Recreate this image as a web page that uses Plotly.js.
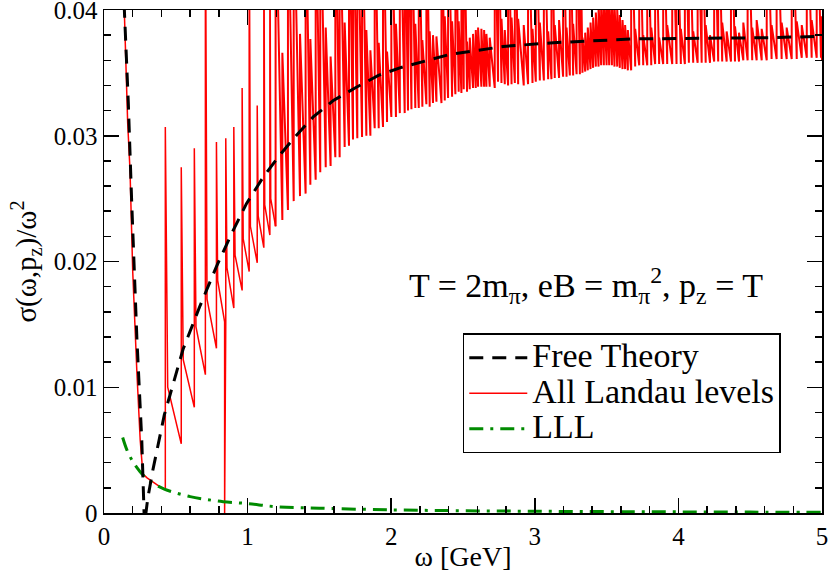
<!DOCTYPE html>
<html><head><meta charset="utf-8">
<script src="https://cdn.plot.ly/plotly-3.0.1.min.js"></script>
<style>html,body{margin:0;padding:0;background:#fff;}#chart{width:830px;height:572px;}</style>
</head><body><div id="chart"></div>
<script>
// Free theory (black dashed)
const freeX = [0.140,0.146,0.169,0.193,0.229,0.263,0.276,0.284,0.292,0.305,0.340,0.420,0.550,0.666,0.783,0.888,0.992,1.108,1.213,1.329,1.457,1.597,1.748,1.911,2.060,2.250,2.420,2.610,2.780,3.130,3.690,4.620,5.000];
const freeY = [0.0405,0.0390,0.0327,0.0247,0.0139,0.0058,0.0020,-0.0018,0.0000,0.0012,0.0034,0.0078,0.0130,0.0164,0.0196,0.0222,0.0246,0.0267,0.0283,0.0299,0.0315,0.0328,0.0338,0.0348,0.0354,0.0360,0.0365,0.0368,0.0371,0.0374,0.0377,0.0378,0.0379];
// Lowest Landau level (green dash-dot)
const lllX = [0.13,0.16,0.20,0.25,0.30,0.35,0.42,0.50,0.60,0.70,0.83,1.00,1.20,1.50,2.00,2.50,3.00,3.50,4.00,4.50,5.00];
const lllY = [0.0060,0.0050,0.0041,0.0033,0.0027,0.0023,0.0019,0.0016,0.0013,0.0011,0.0009,0.00075,0.0005,0.00038,0.00025,0.00018,0.00014,0.00011,0.00009,0.00007,0.00006];
// All Landau levels: part before the first threshold
const leadX = [0.140,0.150,0.165,0.181,0.200,0.229,0.252,0.271,0.300,0.350,0.400,0.427];
const leadY = [0.0405,0.0365,0.0310,0.0273,0.0192,0.0112,0.0058,0.0031,0.0028,0.0024,0.0020,0.0019];
// All Landau levels: thresholds, peak values, value just after the spike, value before next threshold
const llX = [0.427,0.538,0.629,0.706,0.783,0.840,0.848,0.904,0.962,1.011,1.067,1.113,1.155,
1.195,1.242,1.281,1.321,1.365,1.404,1.437,1.474,1.506,1.544,1.578,1.611,1.641,1.676,1.706,1.734,1.764,1.797,1.827,1.855,1.885,1.913,1.943,1.971,2.001,2.033,2.060,
2.094,2.117,2.141,2.168,2.192,2.217,2.245,2.268,2.291,2.315,2.350,2.373,2.396,2.424,2.447,2.470,2.489,2.505,2.528,2.547,2.570,2.589,2.605,2.628,2.647,2.663,2.686,2.721,2.744,2.768,2.791,2.814,2.838,2.861,2.884,
2.923,2.953,2.984,3.007,3.035,3.063,3.093,3.116,3.139,3.169,3.197,3.221,3.244,3.267,3.291,3.314,3.332,3.351,3.369,3.388,3.406,3.425,3.444,3.462,3.481,3.500,3.518,3.537,3.555,3.574,3.592,3.611,3.629,3.648,3.671,3.699,3.727,3.755,3.783,3.811,3.838,3.866,3.894,3.922,
3.957,3.987,4.017,4.045,4.073,4.103,4.134,4.162,4.190,4.220,4.249,4.277,4.305,4.336,4.366,4.394,4.422,4.452,4.482,4.514,4.545,4.580,4.615,4.649,4.684,4.719,4.754,4.789,4.824,4.859,4.894,4.928,4.963,4.993];
const llPeak = [0.0307,0.0275,0.0290,0.050,0.0295,0.0000,0.0298,0.0307,0.0338,0.050,0.0324,0.050,0.050,
0.050,0.0366,0.050,0.050,0.0381,0.050,0.0377,0.050,0.050,0.0386,0.0363,0.050,0.050,0.0390,0.050,0.050,0.050,0.050,0.0384,0.0368,0.050,0.0374,0.050,0.0367,0.050,0.0389,0.050,
0.050,0.050,0.050,0.0389,0.050,0.0376,0.050,0.0383,0.0380,0.0379,0.050,0.0395,0.050,0.0391,0.050,0.0391,0.050,0.050,0.0375,0.0378,0.0381,0.0384,0.0386,0.0385,0.0384,0.0381,0.0378,0.050,0.050,0.0393,0.0384,0.050,0.0394,0.050,0.0393,
0.0388,0.050,0.0385,0.050,0.0390,0.050,0.0383,0.050,0.0388,0.0392,0.050,0.0386,0.050,0.0389,0.050,0.050,0.0378,0.0382,0.0386,0.0390,0.0394,0.0398,0.0405,0.0410,0.0412,0.0412,0.0410,0.0408,0.0404,0.0400,0.0396,0.0392,0.0388,0.0384,0.050,0.0385,0.050,0.0380,0.050,0.0386,0.050,0.0378,0.050,0.0388,
0.050,0.050,0.0385,0.050,0.050,0.0383,0.050,0.050,0.0388,0.0380,0.050,0.050,0.0390,0.0383,0.050,0.0387,0.0382,0.0390,0.050,0.0386,0.0392,0.0385,0.050,0.0388,0.050,0.0390,0.0386,0.050,0.0391,0.0388,0.050,0.0392,0.050,0.0395];
const llKnee = [0.0100,0.0122,0.0148,0.0170,0.0185,null,0.0195,0.0205,0.0218,0.0228,0.0236,0.0245,0.0250];
const llTrough = [0.0055,0.0084,0.0110,0.0131,0.0152,0.0152,0.0163,0.0177,0.0192,0.0199,0.0211,0.0221,0.0228,
0.0233,0.0241,0.0248,0.0252,0.0254,0.0261,0.0265,0.0271,0.0275,0.0276,0.0283,0.0283,0.0291,0.0292,0.0297,0.0298,0.0299,0.0300,0.0300,0.0306,0.0306,0.0307,0.0311,0.0315,0.0315,0.0318,0.0318,
0.0320,0.0321,0.0322,0.0322,0.0323,0.0325,0.0323,0.0326,0.0327,0.0326,0.0328,0.0330,0.0331,0.0333,0.0335,0.0334,0.0337,0.0335,0.0337,0.0338,0.0338,0.0339,0.0339,0.0339,0.0339,0.0339,0.0338,0.0343,0.0342,0.0341,0.0340,0.0341,0.0342,0.0341,0.0340,
0.0341,0.0342,0.0343,0.0344,0.0344,0.0345,0.0345,0.0346,0.0346,0.0347,0.0347,0.0348,0.0348,0.0349,0.0349,0.0350,0.0351,0.0352,0.0353,0.0354,0.0355,0.0355,0.0356,0.0356,0.0356,0.0356,0.0356,0.0355,0.0355,0.0354,0.0353,0.0353,0.0352,0.0352,0.0355,0.0356,0.0356,0.0356,0.0356,0.0357,0.0357,0.0357,0.0357,0.0357,
0.0357,0.0357,0.0357,0.0358,0.0358,0.0358,0.0358,0.0358,0.0358,0.0359,0.0359,0.0359,0.0359,0.0359,0.0359,0.0359,0.0360,0.0360,0.0360,0.0360,0.0360,0.0360,0.0361,0.0361,0.0361,0.0361,0.0361,0.0361,0.0362,0.0362,0.0362,0.0362,0.0362,0.0360];
const xEnd = 5.0;
// Tick values and labels
const xTicks = [0, 1, 2, 3, 4, 5];
const xTickText = ['0', '1', '2', '3', '4', '5'];
const yTicks = [0, 0.01, 0.02, 0.03, 0.04];
const yTickText = ['0', '0.01', '0.02', '0.03', '0.04'];

// Build the sawtooth path; split into a sparse (thin) part and a dense part
const nSparse = 13; // teeth drawn with the thin line
const redAX = leadX.slice(), redAY = leadY.slice();
const redBX = [], redBY = [];
for (let i = 0; i < llX.length; i++) {
  const next = i + 1 < llX.length ? llX[i + 1] : xEnd;
  const tx = i < nSparse ? redAX : redBX, ty = i < nSparse ? redAY : redBY;
  if (i === nSparse) { tx.push(llX[i]); ty.push(llTrough[i - 1]); }
  tx.push(llX[i]); ty.push(llPeak[i]);
  if (i < llKnee.length && llKnee[i] !== null) {
    tx.push(llX[i] + 0.15 * (next - llX[i])); ty.push(llKnee[i]);
  }
  tx.push(next); ty.push(llTrough[i]);
}

const serif = '"Liberation Serif", "Times New Roman", serif';
const big = s => '<span style="font-size:34px">' + s + '</span>';
const traces = [
  {x: redAX, y: redAY, mode: 'lines', name: big('All Landau levels'), legendrank: 2, legendgroup: 'all',
   line: {color: '#ff0000', width: 1.5}},
  {x: redBX, y: redBY, mode: 'lines', name: 'All Landau levels', legendgroup: 'all', showlegend: false,
   line: {color: '#ff0000', width: 2.0}},
  {x: lllX, y: lllY, mode: 'lines', name: big('LLL'), legendrank: 3, line: {shape: 'spline',
   color: '#008b00', width: 3, dash: '14px,7px,3px,7px'}},
  {x: freeX, y: freeY, mode: 'lines', name: big('Free Theory'), legendrank: 1,
   line: {color: '#000000', width: 3, dash: '14px,9px'}}
];
const axisCommon = {
  showgrid: false, zeroline: false, showline: true, linecolor: '#000', linewidth: 1.5,
  mirror: 'ticks', ticks: 'inside', ticklen: 15, tickwidth: 1.5, tickcolor: '#000',
  tickfont: {family: serif, size: 25, color: '#000'}, tickmode: 'array',
  ticklabeloverflow: 'allow'
};
const layout = {
  width: 830, height: 572,
  margin: {l: 104, r: 8, t: 10, b: 59},
  paper_bgcolor: '#fff', plot_bgcolor: '#fff',
  font: {family: serif, size: 24, color: '#000'},
  xaxis: Object.assign({}, axisCommon, {range: [0, 5], tickvals: xTicks, ticktext: xTickText,
    minor: {dtick: 0.2, tick0: 0, ticks: 'inside', ticklen: 7, tickwidth: 1.5, tickcolor: '#000'},
    title: {text: 'ω [GeV]', font: {family: serif, size: 28, color: '#000'}, standoff: 3}}),
  yaxis: Object.assign({}, axisCommon, {range: [0, 0.04], tickvals: yTicks, ticktext: yTickText,
    minor: {dtick: 0.002, tick0: 0, ticks: 'inside', ticklen: 7, tickwidth: 1.5, tickcolor: '#000'},
    title: {text: 'σ(ω,p<sub>z</sub>)/ω<sup>2</sup>', font: {family: serif, size: 29, color: '#000'}, standoff: 8}}),
  showlegend: true,
  legend: {x: 0.4997, y: 0.357, xanchor: 'left', yanchor: 'top', bgcolor: '#fff',
    bordercolor: '#000', borderwidth: 1.5, font: {family: serif, size: 25, color: '#000'},
    tracegroupgap: 0, itemwidth: 58},
  annotations: [{xref: 'paper', yref: 'paper', x: 0.4216, y: 0.452, xanchor: 'left', yanchor: 'middle',
    text: 'T = 2m<sub>π</sub>, eB = m<sub>π</sub><sup>2</sup>, p<sub>z</sub> = T', showarrow: false,
    font: {family: serif, size: 34, color: '#000'}}]
};
Plotly.newPlot('chart', traces, layout, {displayModeBar: false, staticPlot: true});
</script>
</body></html>
